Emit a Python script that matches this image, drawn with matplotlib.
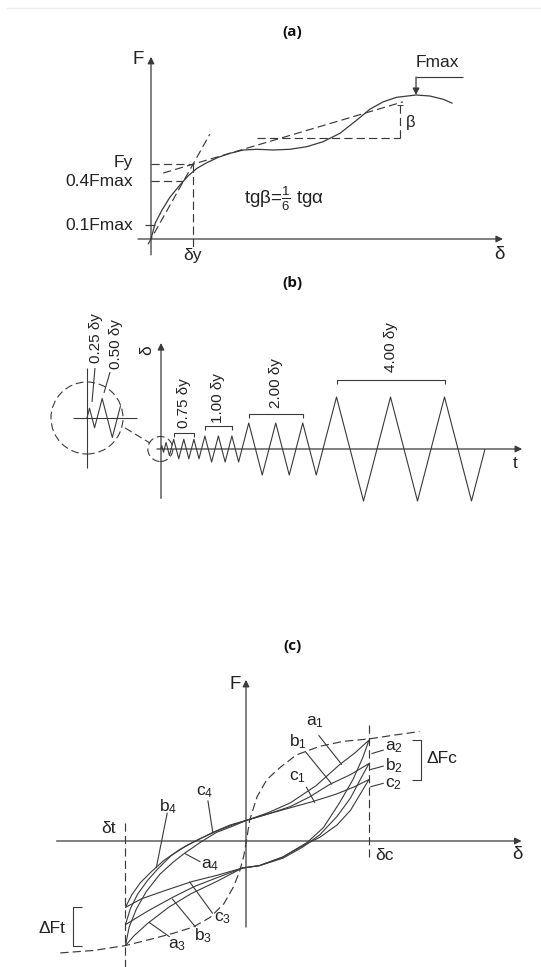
import matplotlib
matplotlib.use("Agg")
import matplotlib.pyplot as plt
from matplotlib.patches import Ellipse

plt.rcParams["font.family"] = ["Liberation Sans", "DejaVu Sans"]
plt.rcParams["mathtext.default"] = "regular"

W, H = 541, 967
INK = "#222222"
LINE = "#3a3a3a"
DASH = (0, (7, 3.5))

# ---------------------------------------------------------
# (a) envelope curve, δ in units of δy, F in units of Fmax
# ---------------------------------------------------------
a_delta = [0.0, 0.10, 0.26, 0.45, 0.69, 0.89, 1.09, 1.33, 1.60, 1.88, 2.20, 2.52,
           2.91, 3.31, 3.71, 4.10, 4.50, 4.90, 5.21, 5.53, 5.85, 6.31, 6.64, 6.96, 7.18]
a_force = [0.0, 0.11, 0.20, 0.29, 0.375, 0.44, 0.49, 0.53, 0.567, 0.595, 0.618, 0.623,
           0.618, 0.623, 0.641, 0.676, 0.734, 0.826, 0.901, 0.953, 0.984, 1.0, 0.993, 0.970, 0.942]
a_delta_04 = 0.77      # where the curve reaches 0.4 Fmax
a_delta_max = 6.31     # position of Fmax
a_beta_level = 0.70    # horizontal leg of the β angle

# ---------------------------------------------------------
# (b) loading protocol: amplitudes in δy, cycles per amplitude
# ---------------------------------------------------------
b_amplitudes = [0.25, 0.50, 0.75, 1.00, 2.00, 4.00]
b_cycles = [1, 1, 3, 3, 3, 3]
b_labels = ["0.25 δy", "0.50 δy", "0.75 δy", "1.00 δy", "2.00 δy", "4.00 δy"]

# ---------------------------------------------------------
# (c) hysteresis loops, δ and F in units of δc
# ---------------------------------------------------------
bb_delta = [-1.51, -1.24, -0.98, -0.78, -0.59, -0.43, -0.29, -0.18, -0.10, -0.05, -0.02, 0.0,
            0.03, 0.09, 0.17, 0.28, 0.41, 0.60, 0.79, 1.00, 1.20, 1.41]
bb_force = [-0.91, -0.89, -0.85, -0.80, -0.75, -0.70, -0.62, -0.51, -0.37, -0.24, -0.13, -0.02,
            0.17, 0.36, 0.50, 0.60, 0.70, 0.77, 0.81, 0.83, 0.86, 0.89]

loop_a_delta = [0.01, 0.18, 0.36, 0.57, 0.76, 0.89, 1.0,
                0.95, 0.87, 0.76, 0.63, 0.50, 0.30, 0.11, -0.03,
                -0.24, -0.45, -0.63, -0.80, -0.91, -0.98,
                -0.95, -0.89, -0.81, -0.70, -0.59, -0.50, -0.37, -0.24, -0.11, 0.01]
loop_a_force = [0.17, 0.23, 0.31, 0.45, 0.62, 0.72, 0.82,
                0.68, 0.50, 0.31, 0.11, -0.01, -0.13, -0.20, -0.22,
                -0.33, -0.43, -0.54, -0.67, -0.77, -0.85,
                -0.70, -0.55, -0.41, -0.27, -0.17, -0.10, -0.01, 0.07, 0.12, 0.17]

loop_b_delta = [0.01, 0.18, 0.36, 0.52, 0.68, 0.85, 1.0,
                0.94, 0.85, 0.74, 0.60, 0.46, 0.30, 0.11, -0.03,
                -0.24, -0.42, -0.60, -0.80, -0.98,
                -0.94, -0.88, -0.80, -0.72, -0.61, -0.49, -0.37, -0.24, -0.11, 0.01]
loop_b_force = [0.17, 0.22, 0.28, 0.36, 0.46, 0.54, 0.63,
                0.52, 0.35, 0.20, 0.05, -0.05, -0.14, -0.20, -0.22,
                -0.30, -0.37, -0.46, -0.57, -0.68,
                -0.55, -0.43, -0.32, -0.23, -0.12, -0.04, 0.02, 0.08, 0.13, 0.17]

loop_c_delta = [0.01, 0.18, 0.36, 0.54, 0.73, 0.88, 1.0,
                0.94, 0.85, 0.74, 0.60, 0.46, 0.30, 0.11, -0.03,
                -0.24, -0.44, -0.65, -0.85, -0.98,
                -0.93, -0.86, -0.77, -0.67, -0.54, -0.41, -0.27, -0.13, 0.01]
loop_c_force = [0.17, 0.22, 0.27, 0.32, 0.38, 0.44, 0.50,
                0.40, 0.25, 0.13, 0.03, -0.04, -0.13, -0.20, -0.22,
                -0.28, -0.33, -0.40, -0.47, -0.54,
                -0.44, -0.34, -0.25, -0.16, -0.07, 0.0, 0.07, 0.13, 0.17]

delta_t, delta_c = -0.98, 1.0


fig = plt.figure(figsize=(W / 100, H / 100), dpi=100)


def panel(ox, oy, sx, sy):
    """Transparent full-figure axes whose data origin sits at pixel (ox, oy)."""
    ax = fig.add_axes([0, 0, 1, 1])
    ax.set_xlim(-ox / sx, (W - ox) / sx)
    ax.set_ylim((oy - H) / sy, oy / sy)
    ax.axis("off")
    return ax


def arrow(ax, start, end):
    ax.annotate("", xy=end, xytext=start,
                arrowprops=dict(arrowstyle="-|>", color=LINE, lw=0.9,
                                mutation_scale=10, shrinkA=0, shrinkB=0))


def seg(ax, xs, ys, dashed=False, lw=0.85, **kw):
    return ax.plot(xs, ys, color=LINE, lw=lw, ls=DASH if dashed else "-",
                   solid_capstyle="butt", **kw)[0]


def label(ax, x, y, s, size=12.5, **kw):
    kw.setdefault("ha", "center")
    kw.setdefault("va", "center")
    ax.text(x, y, s, fontsize=size, color=INK, **kw)


# faint rule at the very top
fig.add_artist(plt.Line2D([7 / W, 1], [1 - 7.5 / H] * 2, color="#ececec", lw=1))

for name, yy in [("(a)", 32), ("(b)", 283), ("(c)", 646)]:
    fig.text(292 / W, 1 - yy / H, name, ha="center", va="center",
             fontsize=11, fontweight="bold", family=["Open Sans", "DejaVu Sans"],
             color="#111111")

# ---------------------------------------------------------
# (a)
# ---------------------------------------------------------
ax = panel(151, 239, 42, 144)
arrow(ax, (0, -0.11), (0, 1.265))
arrow(ax, (-0.31, 0), (8.38, 0))
seg(ax, a_delta, a_force, lw=0.9)

tg_alpha = 0.4 / a_delta_04
tg_beta = tg_alpha / 6
f_y = tg_alpha * 1.0

seg(ax, [-0.07, 1.40], [-0.07 * tg_alpha, 1.40 * tg_alpha], dashed=True)
seg(ax, [0.29, 6.0], [f_y + tg_beta * (0.29 - 1), f_y + tg_beta * (6.0 - 1)], dashed=True)
seg(ax, [0, 1], [f_y, f_y], dashed=True)
seg(ax, [1, 1], [f_y, -0.06], dashed=True)
seg(ax, [0, a_delta_04], [0.4, 0.4], dashed=True)
seg(ax, [-0.14, 0.09], [0.1, 0.1])
seg(ax, [2.52, 5.93], [a_beta_level, a_beta_level], dashed=True)
top_beta = f_y + tg_beta * (5.93 - 1)
seg(ax, [5.93, 5.93], [a_beta_level, top_beta], dashed=True)
seg(ax, [5.85, 6.01], [top_beta - 0.015] * 2, lw=0.7)

arrow(ax, (a_delta_max, 1.125), (a_delta_max, 1.0))
seg(ax, [a_delta_max, 7.43], [1.125, 1.125])
label(ax, 6.83, 1.225, "Fmax")
label(ax, 6.17, 0.81, "β", size=12)
label(ax, 3.17, 0.275, r"tgβ=$\frac{1}{6}$ tgα", size=13.5)

label(ax, -0.31, 1.245, "F", size=13.5)
label(ax, 8.29, -0.11, "δ", size=13.5)
label(ax, 1.0, -0.115, "δy")
label(ax, -0.43, f_y + 0.01, "Fy", ha="right")
label(ax, -0.43, 0.396, "0.4Fmax", ha="right")
label(ax, -0.43, 0.097, "0.1Fmax", ha="right")

# ---------------------------------------------------------
# (b)
# ---------------------------------------------------------
ax = panel(161, 449, 3.375, 13)
arrow(ax, (0, -3.8), (0, 8.15))
arrow(ax, (-1.2, 0), (107.0, 0))

wave_t, wave_d = [0.0], [0.0]
group_peaks = [[] for _ in b_amplitudes]
t_now = 0.0
for g, (amp, n) in enumerate(zip(b_amplitudes, b_cycles)):
    for _ in range(n):
        group_peaks[g].append(t_now + amp)
        wave_t += [t_now + amp, t_now + 2 * amp, t_now + 3 * amp, t_now + 4 * amp]
        wave_d += [amp, 0.0, -amp, 0.0]
        t_now += 4 * amp
seg(ax, wave_t, wave_d, lw=0.8)

# brackets over the peaks of the larger amplitudes
bracket_levels = {2: 1.23, 3: 1.77, 4: 2.69, 5: 5.3}
label_gaps = {2: 0.4, 3: 0.25, 4: 0.45, 5: 0.6}
for g, lev in bracket_levels.items():
    t0, t1 = group_peaks[g][0], group_peaks[g][-1]
    seg(ax, [t0, t0, t1, t1], [lev - 0.3, lev, lev, lev - 0.3], lw=0.8)
    label(ax, (t0 + t1) / 2, lev + label_gaps[g], b_labels[g], size=11,
          rotation=90, va="bottom")

# magnified view of the first small cycles
c_t, c_d, mag = -21.93, 2.385, 3.0
zoom_ring = Ellipse((c_t, c_d), 2 * 36 / 3.375, 2 * 36 / 13, fill=False,
                    ec=LINE, lw=0.8, ls=DASH)
ax.add_patch(zoom_ring)
zoomed = seg(ax, [c_t + mag * t for t in wave_t[:20]],
             [c_d + mag * d for d in wave_d[:20]], lw=0.8)
zoomed.set_clip_path(zoom_ring)
seg(ax, [c_t - 4.15, c_t + 14.8], [c_d, c_d], lw=0.8)
seg(ax, [c_t, c_t], [c_d + 3.85, c_d - 3.85], lw=0.8)
ax.add_patch(Ellipse((-0.2, 0), 2 * 12.5 / 3.375, 2 * 12.5 / 13, fill=False,
                     ec=LINE, lw=0.8, ls=DASH))
seg(ax, [-10.67, -3.26], [1.62, 0.46], dashed=True, lw=0.8)
seg(ax, [-19.56, -20.44], [6.23, 3.62], lw=0.8)
seg(ax, [-15.1, -16.9], [5.92, 4.31], lw=0.8)
label(ax, -19.3, 6.6, b_labels[0], size=11, rotation=90, va="bottom")
label(ax, -13.3, 6.15, b_labels[1], size=11, rotation=90, va="bottom")

label(ax, -4.15, 7.6, "δ", size=12.5, rotation=90)
label(ax, 104.9, -1.08, "t", size=12.5)

# ---------------------------------------------------------
# (c)
# ---------------------------------------------------------
ax = panel(246, 841, 123, 123)
arrow(ax, (0, -0.70), (0, 1.31))
arrow(ax, (-1.54, 0), (2.24, 0))
seg(ax, [delta_t, delta_t], [0.15, -1.03], dashed=True)
seg(ax, [delta_c, delta_c], [0.94, -0.13], dashed=True)
seg(ax, bb_delta, bb_force, dashed=True)
for xs, ys in [(loop_a_delta, loop_a_force), (loop_b_delta, loop_b_force),
               (loop_c_delta, loop_c_force)]:
    seg(ax, xs, ys, lw=0.8)

# force range brackets at the two peaks
tips_pos = [loop_a_force[6], loop_c_force[6]]
tips_neg = [loop_c_force[19], loop_a_force[20]]
seg(ax, [1.35, 1.42, 1.42, 1.35], [tips_pos[0], tips_pos[0], tips_pos[1], tips_pos[1]], lw=0.8)
seg(ax, [-1.33, -1.41, -1.41, -1.33], [tips_neg[0], tips_neg[0], tips_neg[1], tips_neg[1]], lw=0.8)
label(ax, 1.59, 0.67, "ΔFc")
label(ax, -1.58, -0.71, "ΔFt")

leaders = [
    ("$a_1$", (0.56, 0.97), (0.59, 0.86), (0.78, 0.62)),
    ("$b_1$", (0.42, 0.81), (0.48, 0.73), (0.70, 0.46)),
    ("$c_1$", (0.42, 0.52), (0.49, 0.44), (0.56, 0.31)),
    ("$a_2$", (1.20, 0.76), (1.02, 0.71), (1.12, 0.74)),
    ("$b_2$", (1.20, 0.61), (1.01, 0.58), (1.12, 0.61)),
    ("$c_2$", (1.20, 0.46), (1.01, 0.44), (1.12, 0.47)),
    ("$c_4$", (-0.34, 0.40), (-0.31, 0.33), (-0.27, 0.07)),
    ("$b_4$", (-0.63, 0.28), (-0.64, 0.23), (-0.73, -0.22)),
    ("$a_4$", (-0.29, -0.20), (-0.37, -0.17), (-0.50, -0.10)),
    ("$c_3$", (-0.19, -0.63), (-0.27, -0.59), (-0.46, -0.33)),
    ("$b_3$", (-0.35, -0.77), (-0.41, -0.70), (-0.60, -0.47)),
    ("$a_3$", (-0.56, -0.85), (-0.62, -0.78), (-0.79, -0.66)),
]
for txt, pos, p0, p1 in leaders:
    seg(ax, [p0[0], p1[0]], [p0[1], p1[1]], lw=0.8)
    label(ax, pos[0], pos[1], txt)

label(ax, -0.09, 1.27, "F", size=13.5)
label(ax, 2.21, -0.11, "δ", size=13.5)
label(ax, -1.12, 0.10, "δt")
label(ax, 1.13, -0.12, "δc")

fig.savefig("out.png", dpi=100, facecolor="white")
